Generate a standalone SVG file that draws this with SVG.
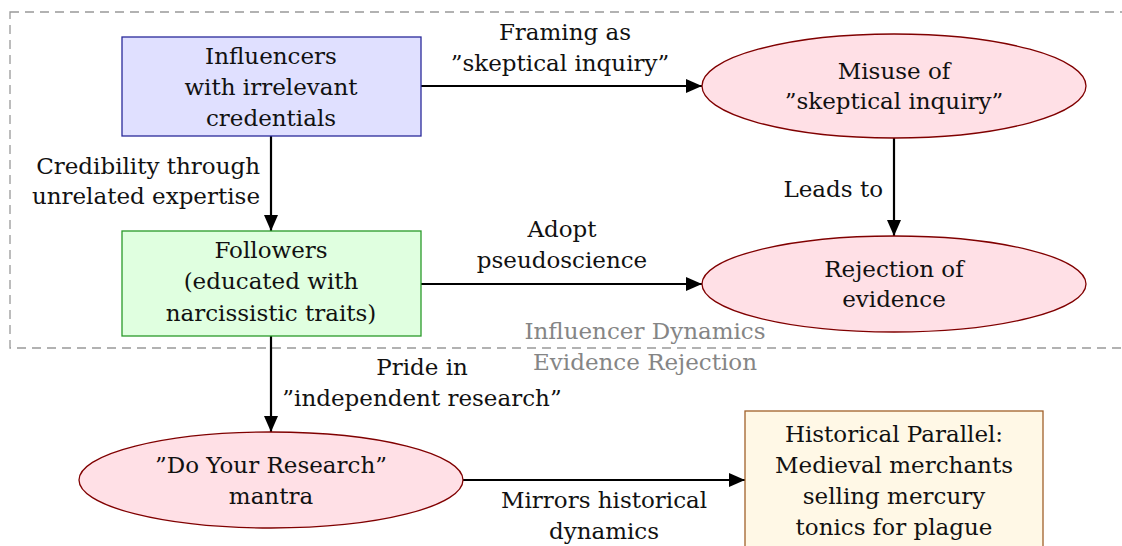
<svg xmlns="http://www.w3.org/2000/svg" width="1122" height="546" viewBox="0 0 1122 546">
<defs>
<style>
text{font-family:"DejaVu Serif","Liberation Serif",serif;font-size:23px;fill:#111;text-anchor:middle}
.grp{fill:#858585}
.r{text-anchor:end}
.edge{stroke:#000;stroke-width:2.2;fill:none;marker-end:url(#ah)}
.ell{fill:#ffe0e6;stroke:#800000;stroke-width:1.3}
</style>
<marker id="ah" markerUnits="userSpaceOnUse" markerWidth="16" markerHeight="14" refX="16" refY="7" orient="auto">
<path d="M0,0 L16,7 L0,14 Z" fill="#000"/>
</marker>
</defs>
<rect width="1122" height="546" fill="#fff"/>
<g id="group-box">
<rect x="10" y="12" width="1130" height="336" fill="none" stroke="#999" stroke-width="1.3" stroke-dasharray="9,6"/>
<text class="grp" x="645" y="339">Influencer Dynamics</text>
<text class="grp" x="645" y="370">Evidence Rejection</text>
</g>
<g id="connectors">
<line class="edge" x1="421" y1="86" x2="702" y2="86"/>
<line class="edge" x1="271" y1="136" x2="271" y2="231"/>
<line class="edge" x1="894" y1="138" x2="894" y2="236"/>
<line class="edge" x1="421" y1="284" x2="702" y2="284"/>
<line class="edge" x1="271" y1="336" x2="271" y2="432"/>
<line class="edge" x1="463" y1="480" x2="745" y2="480"/>
<text x="565" y="40">Framing as</text>
<text x="560" y="71">”skeptical inquiry”</text>
<text class="r" x="260" y="174">Credibility through</text>
<text class="r" x="260" y="204">unrelated expertise</text>
<text class="r" x="883" y="197">Leads to</text>
<text x="562" y="237">Adopt</text>
<text x="562" y="268">pseudoscience</text>
<text x="422" y="375">Pride in</text>
<text x="422" y="406">”independent research”</text>
<text x="604" y="508">Mirrors historical</text>
<text x="604" y="539">dynamics</text>
</g>
<g id="influencers">
<rect x="122" y="37" width="299" height="99" fill="#e0e0ff" stroke="#2a2a9a" stroke-width="1.3"/>
<text x="271" y="64">Influencers</text>
<text x="271" y="95">with irrelevant</text>
<text x="271" y="126">credentials</text>
</g>
<g id="followers">
<rect x="122" y="231" width="299" height="105" fill="#e0ffe0" stroke="#2a9a2a" stroke-width="1.3"/>
<text x="271" y="258">Followers</text>
<text x="271" y="289">(educated with</text>
<text x="271" y="321">narcissistic traits)</text>
</g>
<g id="misuse">
<ellipse class="ell" cx="894" cy="86" rx="192" ry="52"/>
<text x="894" y="79">Misuse of</text>
<text x="894" y="109">”skeptical inquiry”</text>
</g>
<g id="rejection">
<ellipse class="ell" cx="894" cy="284" rx="192" ry="48"/>
<text x="894" y="277">Rejection of</text>
<text x="894" y="307">evidence</text>
</g>
<g id="doresearch">
<ellipse class="ell" cx="271" cy="480" rx="192" ry="48"/>
<text x="271" y="473">”Do Your Research”</text>
<text x="271" y="504">mantra</text>
</g>
<g id="historical">
<rect x="745" y="411" width="298" height="150" fill="#fff8e6" stroke="#a0602a" stroke-width="1.3"/>
<text x="894" y="442">Historical Parallel:</text>
<text x="894" y="473">Medieval merchants</text>
<text x="894" y="504">selling mercury</text>
<text x="894" y="535">tonics for plague</text>
</g>
</svg>
